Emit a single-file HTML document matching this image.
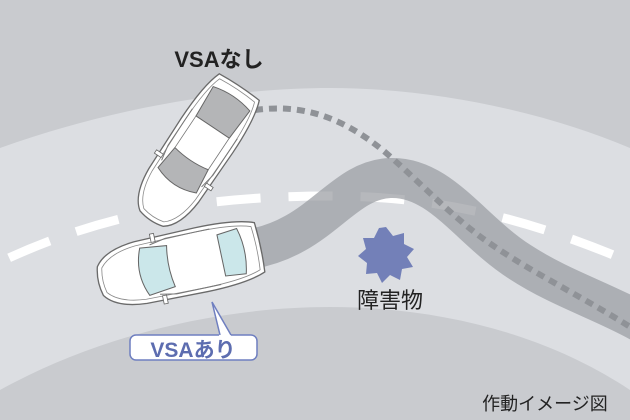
<!DOCTYPE html>
<html><head><meta charset="utf-8"><style>
html,body{margin:0;padding:0;width:630px;height:420px;overflow:hidden;background:#c9cbcf}
svg{display:block}
text{font-family:"Liberation Sans","Noto Sans CJK JP",sans-serif}
</style></head><body>
<svg width="630" height="420" viewBox="0 0 630 420" xmlns="http://www.w3.org/2000/svg">
<!-- road -->
<path d="M0,148 C120,105 240,88 330,88 C430,88 540,110 630,148 L630,390 C540,330 430,307 330,307 C220,307 100,335 0,390 Z" fill="#dcdee2"/>
<!-- center dashes -->
<path d="M0,262 C100,215 200,196 330,196 C430,196 520,215 630,262" fill="none" stroke="#fff" stroke-width="9" stroke-dasharray="44,28" stroke-dashoffset="-10"/>
<!-- skid band -->
<path d="M245,250 C320,240 340,180 390,178 C440,176 470,230 520,262 C560,288 600,300 640,322" fill="none" stroke="#9a9da2" stroke-opacity="0.72" stroke-width="40"/>
<!-- dashed VSA-none path -->
<path d="M255,110 C300,104 340,115 385,152 C420,182 450,215 485,240 C530,272 580,295 635,330" fill="none" stroke="#8f9297" stroke-width="6" stroke-dasharray="8,6"/>
<!-- upper car -->
<g transform="translate(196,152) rotate(123.7)">
  <path d="M-78,-24 Q-80,0 -78,24 Q-60,31 -20,31 L40,30 Q70,28 80,14 Q84,0 80,-14 Q70,-28 40,-30 L-20,-31 Q-60,-31 -78,-24 Z" fill="#fff" stroke="#6a6a6a" stroke-width="1.3"/>
  <path d="M-74,-21 Q-76,0 -74,21 Q-58,27 -20,27 L40,26 Q66,24 76,12 Q79,0 76,-12 Q66,-24 40,-26 L-20,-27 Q-58,-27 -74,-21 Z" fill="none" stroke="#8a8a8a" stroke-width="0.8"/>
  <path d="M-64,-22 L-30,-20 L-30,20 L-64,22 Q-70,0 -64,-22 Z" fill="#b4b5b7" stroke="#666" stroke-width="1"/>
  <path d="M8,-20 L34,-23 Q44,0 34,23 L8,20 Q12,0 8,-20 Z" fill="#b4b5b7" stroke="#666" stroke-width="1"/>
  <path d="M-30,-20 L8,-20 M-30,20 L8,20" fill="none" stroke="#777" stroke-width="0.8"/>
  <path d="M-34,-27 L10,-27 L26,-24" fill="none" stroke="#777" stroke-width="1"/>
  <path d="M-34,27 L10,27 L26,24" fill="none" stroke="#777" stroke-width="1"/>
  <rect x="20" y="-34" width="4" height="8" fill="#fff" stroke="#666" stroke-width="0.8"/>
  <rect x="20" y="26" width="4" height="8" fill="#fff" stroke="#666" stroke-width="0.8"/>
</g>
<!-- lower car -->
<g transform="translate(181,264) rotate(168) scale(1.03,1.05)">
  <path d="M-78,-24 Q-80,0 -78,24 Q-60,31 -20,31 L40,30 Q70,28 80,14 Q84,0 80,-14 Q70,-28 40,-30 L-20,-31 Q-60,-31 -78,-24 Z" fill="#fff" stroke="#6a6a6a" stroke-width="1.3"/>
  <path d="M-74,-21 Q-76,0 -74,21 Q-58,27 -20,27 L40,26 Q66,24 76,12 Q79,0 76,-12 Q66,-24 40,-26 L-20,-27 Q-58,-27 -74,-21 Z" fill="none" stroke="#8a8a8a" stroke-width="0.8"/>
  <path d="M-60,-22 L-40,-20 L-40,20 L-60,22 Q-66,0 -60,-22 Z" fill="#cbe7ea" stroke="#666" stroke-width="1"/>
  <path d="M10,-20 L36,-23 Q46,0 36,23 L10,20 Q14,0 10,-20 Z" fill="#cbe7ea" stroke="#666" stroke-width="1"/>
  <path d="M-34,-27 L10,-27 L26,-24" fill="none" stroke="#777" stroke-width="1"/>
  <path d="M-34,27 L10,27 L26,24" fill="none" stroke="#777" stroke-width="1"/>
  <rect x="20" y="-34" width="4" height="8" fill="#fff" stroke="#666" stroke-width="0.8"/>
  <rect x="20" y="26" width="4" height="8" fill="#fff" stroke="#666" stroke-width="0.8"/>
</g>
<!-- obstacle -->
<polygon fill="#7380b8" points="386,227 393,236 404,233 404,244 414,249 407,257 413,267 402,269 400,280 390,275 382,283 377,273 366,274 367,263 358,256 366,249 363,238 374,238 379,228"/>
<text x="390" y="308" font-size="22" text-anchor="middle" fill="#222">障害物</text>
<text x="219" y="67" font-size="22" text-anchor="middle" fill="#222" font-weight="bold">VSAなし</text>
<!-- callout -->
<path d="M212,302 L220,336 L231,336 Z" fill="#fff"/>
<rect x="130" y="335" width="127" height="25" rx="6" fill="#fff" stroke="#6f7fc0" stroke-width="1.5"/>
<rect x="219" y="333" width="12" height="4" fill="#fff"/>
<path d="M220,335 L212,302 L231,335" fill="none" stroke="#6f7fc0" stroke-width="1.5"/>
<text x="193" y="357" font-size="21" font-weight="bold" text-anchor="middle" fill="#5d6db0">VSAあり</text>
<text x="545" y="410" font-size="18" text-anchor="middle" fill="#222">作動イメージ図</text>
</svg>
</body></html>
